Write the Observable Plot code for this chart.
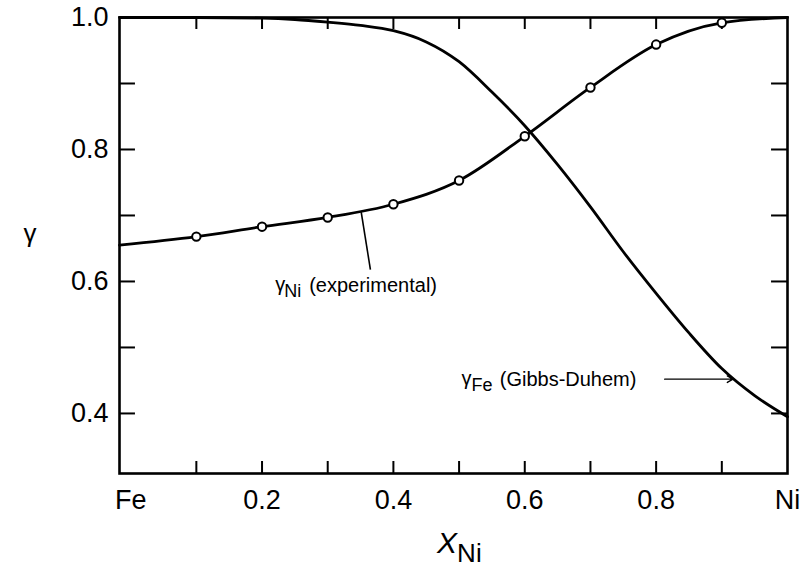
<!DOCTYPE html>
<html>
<head>
<meta charset="utf-8">
<script src="https://cdn.jsdelivr.net/npm/d3@7"></script>
<script src="https://cdn.jsdelivr.net/npm/@observablehq/plot@0.6"></script>
<style>
  html, body { margin: 0; padding: 0; background: #fff; }
  #chart { width: 812px; height: 576px; }
</style>
</head>
<body>
<div id="chart"></div>
<script>
// ---- data ----
const xLabeledTicks = [0, 0.2, 0.4, 0.6, 0.8, 1.0];
const xLabeledText = ["Fe", "0.2", "0.4", "0.6", "0.8", "Ni"];
const yLabeledTicks = [0.4, 0.6, 0.8, 1.0];
const yLabeledText = ["0.4", "0.6", "0.8", "1.0"];
const xMinorTicks = [0.1, 0.2, 0.3, 0.4, 0.5, 0.6, 0.7, 0.8, 0.9];
const yMinorTicks = [0.4, 0.5, 0.6, 0.7, 0.8, 0.9];

// gamma Ni (experimental): curve (starting at the left frame edge) and measured points
const xNi = [-0.017, 0.1, 0.2, 0.3, 0.4, 0.5, 0.6, 0.7, 0.8, 0.9, 1.0];
const gNi = [0.655, 0.668, 0.683, 0.697, 0.717, 0.753, 0.820, 0.894, 0.959, 0.992, 1.0];
const xPts = [0.1, 0.2, 0.3, 0.4, 0.5, 0.6, 0.7, 0.8, 0.9];
const gPts = [0.668, 0.683, 0.697, 0.717, 0.753, 0.820, 0.894, 0.959, 0.992];

// gamma Fe (Gibbs-Duhem)
const xFe = [-0.017, 0.1, 0.2, 0.25, 0.3, 0.35, 0.4, 0.45, 0.5, 0.55, 0.6, 0.65, 0.7, 0.75, 0.8, 0.85, 0.9, 0.95, 1.0];
const gFe = [1.0, 1.0, 0.999, 0.997, 0.993, 0.988, 0.980, 0.963, 0.933, 0.887, 0.836, 0.777, 0.713, 0.645, 0.582, 0.522, 0.468, 0.427, 0.395];

// annotations (data coordinates)
const niLabel = [{x: 0.22, y: 0.594}];
const niLeader = [{x1: 0.351, y1: 0.705, x2: 0.365, y2: 0.618}];
const feLabel = [{x: 0.770, y: 0.452}];
const feArrow = [{x1: 0.813, y1: 0.452, x2: 0.917, y2: 0.452}];

const xDomain = [-0.017, 1.0];
const yDomain = [0.309, 1.0];

const niLine = xNi.map((x, i) => ({x, y: gNi[i]}));
const niPts = xPts.map((x, i) => ({x, y: gPts[i]}));
const feLine = xFe.map((x, i) => ({x, y: gFe[i]}));

const font = "'Liberation Sans', Arial, Helvetica, sans-serif";
const tickLenY = 0.0182; // vertical inward tick length in y units
const tickLenX = 0.0243; // horizontal inward tick length in x units

const chart = Plot.plot({
  width: 812,
  height: 576,
  marginLeft: 119,
  marginRight: 25,
  marginTop: 17,
  marginBottom: 103,
  x: {domain: xDomain},
  y: {domain: yDomain},
  style: {fontFamily: font, background: "white", color: "black", overflow: "visible"},
  marks: [
    // inward minor ticks on all four sides
    Plot.ruleX(xMinorTicks, {y1: yDomain[0], y2: yDomain[0] + tickLenY, stroke: "black", strokeWidth: 2}),
    Plot.ruleX(xMinorTicks, {y1: yDomain[1], y2: yDomain[1] - tickLenY, stroke: "black", strokeWidth: 2}),
    Plot.ruleY(yMinorTicks, {x1: xDomain[0], x2: xDomain[0] + tickLenX, stroke: "black", strokeWidth: 2}),
    Plot.ruleY(yMinorTicks, {x1: xDomain[1], x2: xDomain[1] - tickLenX, stroke: "black", strokeWidth: 2}),
    // tick labels
    Plot.axisX(xLabeledTicks, {
      tickSize: 0, tickPadding: 16, fontSize: 27, label: null,
      tickFormat: d => xLabeledText[xLabeledTicks.indexOf(d)]
    }),
    Plot.axisY(yLabeledTicks, {
      tickSize: 0, tickPadding: 11, fontSize: 27, label: null,
      tickFormat: d => yLabeledText[yLabeledTicks.indexOf(d)]
    }),
    // curves
    Plot.line(feLine, {x: "x", y: "y", curve: "monotone-x", stroke: "black", strokeWidth: 2.8}),
    Plot.line(niLine, {x: "x", y: "y", curve: "monotone-x", stroke: "black", strokeWidth: 2.8}),
    Plot.dot(niPts, {x: "x", y: "y", r: 4.2, fill: "white", stroke: "black", strokeWidth: 2}),
    // annotations
    Plot.link(niLeader, {x1: "x1", y1: "y1", x2: "x2", y2: "y2", stroke: "black", strokeWidth: 1.6}),
    Plot.text(niLabel, {x: "x", y: "y", text: () => "γ", textAnchor: "start", fontSize: 20, dy: -1}),
    Plot.text(niLabel, {x: "x", y: "y", text: () => "Ni", textAnchor: "start", fontSize: 18, dx: 9, dy: 6}),
    Plot.text(niLabel, {x: "x", y: "y", text: () => "(experimental)", textAnchor: "start", fontSize: 20, dx: 34, dy: 0}),
    Plot.arrow(feArrow, {x1: "x1", y1: "y1", x2: "x2", y2: "y2", stroke: "black", strokeWidth: 1.4, headLength: 7}),
    Plot.text(feLabel, {x: "x", y: "y", text: () => "(Gibbs-Duhem)", textAnchor: "end", fontSize: 20}),
    Plot.text(feLabel, {x: "x", y: "y", text: () => "Fe", textAnchor: "end", fontSize: 18, dx: -144, dy: 6}),
    Plot.text(feLabel, {x: "x", y: "y", text: () => "γ", textAnchor: "end", fontSize: 20, dx: -165, dy: -1}),
    // axis titles
    Plot.text([{y: 0.672}], {frameAnchor: "left", y: "y", text: () => "γ", fontSize: 26, dx: -96}),
    Plot.text([{x: 0.497}], {frameAnchor: "bottom", x: "x", text: () => "X", fontStyle: "italic", fontSize: 30, textAnchor: "end", dy: 79}),
    Plot.text([{x: 0.497}], {frameAnchor: "bottom", x: "x", text: () => "Ni", fontSize: 26, textAnchor: "start", dy: 88}),
    // frame
    Plot.frame({stroke: "black", strokeWidth: 2.6})
  ]
});
document.getElementById("chart").append(chart);
</script>
</body>
</html>
